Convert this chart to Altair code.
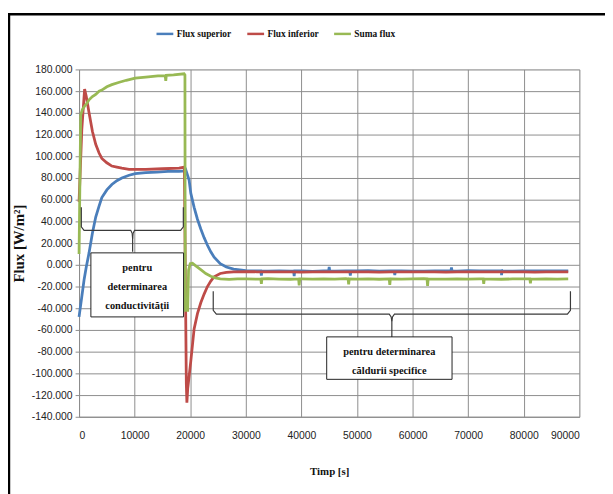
import altair as alt
import pandas as pd

SERIES = ["Flux superior", "Flux inferior", "Suma flux"]
COLORS = ["#4a7ebb", "#be4b48", "#98b954"]

X_TICKS = [0, 10000, 20000, 30000, 40000, 50000, 60000, 70000, 80000, 90000]
Y_TICKS = [-140, -120, -100, -80, -60, -40, -20, 0, 20, 40, 60, 80, 100, 120, 140, 160, 180]

# long steady stage sampling times
t_plateau = [30000, 32000, 34000, 36000, 38000, 40000, 42000, 44000, 46000, 48000,
             50000, 52000, 54000, 56000, 58000, 60000, 62000, 64000, 66000, 68000,
             70000, 72000, 74000, 76000, 78000, 80000, 82000, 84000, 86000, 88000]

# Flux superior (blue)
t_sup = [0, 400, 900, 1300, 1800, 2400, 3000, 3600, 4100, 5000, 5900, 6800, 7700, 9000,
         10100, 12000, 14000, 16000, 18000, 19000, 19200, 19800, 20100, 20700, 21300,
         21900, 22500, 23100, 23700, 24300, 25400, 26500, 27800]
v_sup = [-48, -33, -14, -2, 11, 29, 44, 54, 62, 69, 74, 77.5, 80, 82.5,
         84, 85, 85.5, 86, 86, 86.5, 87.5, 78, 66, 53, 42,
         33, 25, 18, 12, 7, 1, -2, -4]
v_sup_plateau = [-5.4, -5.7, -5.9, -5.5, -5.8, -5.6, -6.0, -5.5, -5.8, -5.6,
                 -5.7, -5.4, -5.9, -5.6, -5.5, -5.8, -5.9, -5.5, -5.6, -5.8,
                 -5.4, -5.7, -5.6, -5.5, -5.8, -5.6, -5.7, -5.5, -5.6, -5.7]
t_sup_spk = [32700, 32800, 32900, 38600, 38700, 38800, 44900, 45000, 45100,
             48700, 48800, 48900, 56700, 56800, 56900, 66900, 67000, 67100,
             75900, 76000, 76100]
v_sup_spk = [-5.6, -10, -5.6, -5.6, -10.5, -5.6, -5.6, -2, -5.6,
             -5.6, -10, -5.6, -5.6, -9.5, -5.6, -5.6, -2.5, -5.6,
             -5.6, -9.5, -5.6]

# Flux inferior (red)
t_inf = [0, 500, 1000, 1300, 1800, 2400, 3000, 3600, 4100, 5000, 5900, 6800, 7700, 9000,
         12000, 15000, 18000, 18900, 18950, 19300, 19400, 19550, 20100, 20700, 21300,
         21900, 22500, 23100, 23700, 24300, 25400, 26500, 27800]
v_inf = [58, 125, 162, 155, 140, 123, 111, 103, 98, 94, 91, 90, 89, 88,
         88, 88.5, 89, 90, 88, -110, -127, -114, -89, -59, -45,
         -35, -27, -20, -15, -11, -8, -7, -6.5]
v_inf_plateau = [-6.3, -6.4, -6.6, -6.4, -6.5, -6.7, -6.4, -6.6, -6.5, -6.4,
                 -6.6, -6.5, -6.7, -6.4, -6.5, -6.6, -6.4, -6.5, -6.7, -6.5,
                 -6.4, -6.6, -6.5, -6.4, -6.6, -6.5, -6.7, -6.5, -6.4, -6.6]

# Suma flux (green)
t_sum = [0, 300, 600, 1100, 1300, 1800, 2400, 3000, 3600, 4100, 5000, 5900, 7100, 8500,
         10100, 12000, 14200, 15500, 15600, 15700, 17000, 18900, 19050, 19100, 19550,
         19700, 20000, 20400, 21000, 21900, 22800, 23700, 24500, 25400, 27000, 28500]
v_sum = [10, 138, 143, 147, 148, 152, 155, 157, 160, 161, 164, 166, 168, 170,
         172, 173, 174, 174, 169.5, 174.5, 175, 176, 175, -42, -42,
         -5, 1, 1.5, -1, -4.5, -8, -10.5, -12, -13, -13.5, -13]
v_sum_plateau = [-13.0, -13.2, -12.8, -13.1, -13.3, -12.9, -13.2, -13.0, -13.1, -12.8,
                 -13.2, -13.0, -13.3, -12.9, -13.1, -13.0, -12.8, -13.2, -13.1, -13.0,
                 -13.2, -12.9, -13.1, -13.3, -13.0, -12.9, -13.2, -13.0, -13.1, -13.0]
t_sum_spk = [32700, 32800, 32900, 39500, 39600, 39700, 48400, 48500, 48600,
             55800, 55900, 56000, 62600, 62700, 62800, 72700, 72800, 72900,
             81100, 81200, 81300]
v_sum_spk = [-13, -17.5, -13, -13, -19, -13, -13, -18, -13,
             -13, -18.5, -13, -13, -19.5, -13, -13, -17.5, -13,
             -13, -17, -13]

# annotation brackets (time, flux) polylines
br_t = [410, 410, 900, 9300, 9560, 9640, 9640,
        18760, 18760, 18270, 9980, 9720, 9640,
        24140, 24140, 24700, 55800, 56150, 56270, 56270,
        88400, 88400, 87850, 56740, 56390, 56270]
br_v = [53, 35, 31.8, 31.8, 29, 24, 12,
        53, 35, 31.8, 31.8, 29, 24,
        -24.3, -42, -45.5, -45.5, -48, -52, -66.4,
        -24.3, -42, -45.5, -45.5, -48, -52]
br_g = ["a"] * 7 + ["b"] * 6 + ["c"] * 7 + ["d"] * 6

box_t1 = [2130, 44550]
box_t2 = [18800, 67100]
box_v1 = [11, -66.4]
box_v2 = [-48, -105.5]

# first-line anchor of each annotation text
txt_t = [10470, 55800]
txt_v = [-2.7, -80]
txt_s = ["pentru\ndeterminarea\nconductivității", "pentru determinarea\ncăldurii specifice"]

frames = []
for name, t, v in [
    ("Flux superior", t_sup + t_plateau + t_sup_spk, v_sup + v_sup_plateau + v_sup_spk),
    ("Flux inferior", t_inf + t_plateau, v_inf + v_inf_plateau),
    ("Suma flux", t_sum + t_plateau + t_sum_spk, v_sum + v_sum_plateau + v_sum_spk),
]:
    frames.append(pd.DataFrame({"t": t, "v": v, "series": name}))
df = pd.concat(frames, ignore_index=True).sort_values(["series", "t"])

br_df = pd.DataFrame({"t": br_t, "v": br_v, "g": br_g})
br_df["o"] = range(len(br_df))
box_df = pd.DataFrame({"t": box_t1, "t2": box_t2, "v": box_v1, "v2": box_v2})
txt_df = pd.DataFrame({"t": txt_t, "v": txt_v, "s": txt_s})

TICK_FONT = "Liberation Sans, sans-serif"
SERIF = "Liberation Serif, serif"
GRID = "#8c8c8c"

x_axis = alt.Axis(values=X_TICKS, format="d", title="Timp [s]", grid=True, gridColor=GRID,
                  domainColor=GRID, ticks=False, labelPadding=14, labelFont=TICK_FONT,
                  labelFontSize=10.5, labelColor="#222", titleFont=SERIF, titleFontSize=11,
                  titleFontWeight="bold", titleColor="#111", titleY=55, titleBaseline="middle")
y_axis = alt.Axis(values=Y_TICKS, title="Flux [W/m²]", grid=True, gridColor=GRID,
                  domainColor=GRID, tickColor=GRID, tickSize=4, labelPadding=3,
                  labelExpr="replace(format(datum.value, '.3f'), '\u2212', '-')",
                  labelFont=TICK_FONT, labelFontSize=10.5, labelColor="#222",
                  titleFont=SERIF, titleFontSize=15, titleFontWeight="bold", titleColor="#111",
                  titleX=-61, titleY=176, titleAngle=-90, titleAlign="center",
                  titleBaseline="middle")
xs = alt.Scale(domain=[0, 90000], nice=False)
ys = alt.Scale(domain=[-140, 180], nice=False)


def X(field):
    return alt.X(field, type="quantitative", scale=xs, axis=x_axis)


def Y(field):
    return alt.Y(field, type="quantitative", scale=ys, axis=y_axis)


color = alt.Color("series:N", scale=alt.Scale(domain=SERIES, range=COLORS),
                  legend=alt.Legend(title=None, orient="none", legendX=77, legendY=-46,
                                    direction="horizontal", symbolType="stroke",
                                    symbolSize=290, symbolStrokeWidth=2.5,
                                    labelFont=SERIF, labelFontSize=9.5, labelFontWeight="bold",
                                    labelColor="#111", labelOffset=2, columnPadding=10))

layers = []
for name in SERIES:
    layers.append(
        alt.Chart(df).transform_filter(alt.datum.series == name)
        .mark_line(strokeWidth=2.8)
        .encode(x=X("t"), y=Y("v"), color=color)
    )

brackets = alt.Chart(br_df).mark_line(color="#3a3a3a", strokeWidth=1.2).encode(
    x=X("t"), y=Y("v"), detail="g:N", order="o:Q")
boxes = alt.Chart(box_df).mark_rect(fill="white", stroke="#222", strokeWidth=1).encode(
    x=X("t"), x2="t2", y=Y("v"), y2="v2")
texts = alt.Chart(txt_df).mark_text(font=SERIF, fontSize=10.5, fontWeight="bold",
                                    color="#111", lineBreak="\n", lineHeight=19.5,
                                    align="center", baseline="middle").encode(
    x=X("t"), y=Y("v"), text="s:N")
frame = alt.Chart(pd.DataFrame({"a": [0]})).mark_rect(fill=None, stroke="black",
                                                      strokeWidth=2.5).encode(
    x=alt.value(-71), x2=alt.value(700), y=alt.value(-56), y2=alt.value(700))

chart = alt.layer(*layers, brackets, boxes, texts, frame).properties(
    width=507, height=352,
    autosize=alt.AutoSizeParams(type="none"),
    padding={"left": 72, "top": 59, "right": 26, "bottom": 75},
).configure_view(stroke=GRID).configure(background="white")

chart.save("out.html", embed_options={"renderer": "svg", "actions": False})
